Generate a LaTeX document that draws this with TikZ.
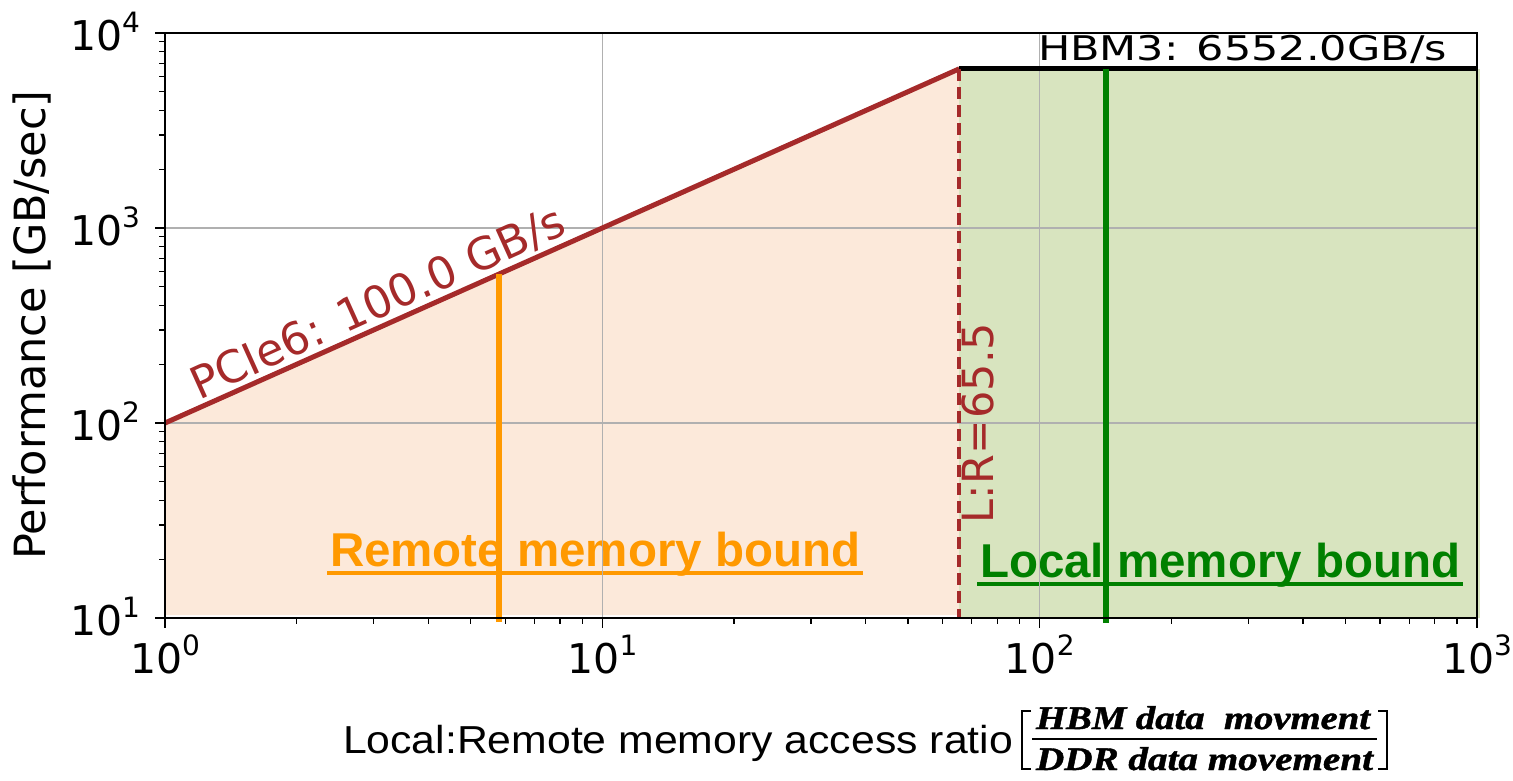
\documentclass[tikz,border=0pt]{standalone}
\usepackage{fontspec}
\usepackage{graphicx}
\setmainfont{DejaVu Sans}
\newfontfamily\arialf{Liberation Sans}
\newfontfamily\timesf{Liberation Serif}[FakeBold=1.2]
\definecolor{pcie}{HTML}{A52A2A}
\definecolor{peach}{HTML}{FCE9DA}
\definecolor{lgreen}{HTML}{D8E4BF}
\definecolor{orng}{HTML}{FF9900}
\definecolor{dgreen}{HTML}{008000}
\definecolor{gridc}{HTML}{B0B0B0}
\newcommand\tlab[1]{10\raisebox{18pt}{\fontsize{28}{28}\selectfont #1}}
\tikzset{
  txt/.style={inner sep=0pt, outer sep=0pt},
  ticklab/.style={txt, font=\fontsize{41}{41}\selectfont},
  mpllab/.style={txt, font=\fontsize{43}{43}\selectfont},
  bigbold/.style={txt, font=\arialf\bfseries\fontsize{47.5}{47.5}\selectfont},
  fracfont/.style={txt, font=\timesf\bfseries\itshape\fontsize{33}{33}\selectfont},
  gridline/.style={gridc, line width=1.5pt},
  thickline/.style={line width=5pt},
  frame/.style={black, line width=1.6pt},
  tickmaj/.style={black, line width=1.5pt},
  tickmin/.style={black, line width=1.1pt},
  brk/.style={black, line width=1.8pt},
}
\begin{document}
\begin{tikzpicture}[x=1pt,y=-1pt]
\useasboundingbox (0,0) rectangle (1513,780);
% key coordinates
\coordinate (pstart) at (165,423);
\coordinate (ridge) at (959.3,68.8);
\coordinate (ridgebot) at (959.3,618);
\coordinate (hbmend) at (1477,68.8);
\coordinate (ortop) at (499,274.1);
\coordinate (orbot) at (499,622);
\coordinate (grtop) at (1106,68.8);
\coordinate (grbot) at (1106,623);
% fills
\fill[peach] (165,615) -- (pstart) -- (ridge) -- (959.3,615) -- cycle;
\fill[lgreen] (959.3,68.8) rectangle (1480,618);
% region annotations
\node[bigbold, orng, anchor=base west] (rmb) at (330,566) {Remote memory bound};
\draw[orng, line width=4.5pt] ([xshift=-3pt,yshift=-7pt]rmb.base west) -- ([xshift=3pt,yshift=-7pt]rmb.base east);
\node[bigbold, dgreen, anchor=base west] (lmb) at (980,577) {Local memory bound};
\draw[dgreen, line width=4.5pt] ([xshift=-3pt,yshift=-7pt]lmb.base west) -- ([xshift=3pt,yshift=-7pt]lmb.base east);
\node[mpllab, pcie, rotate=90, anchor=base west] (lr) at (993,523) {L:R=65.5};
% grid
\draw[gridline] (602.3,33) -- (602.3,618);
\draw[gridline] (1039.7,33) -- (1039.7,618);
\draw[gridline] (165,228) -- (1477,228);
\draw[gridline] (165,423) -- (1477,423);
% roofline
\draw[thickline, pcie] (pstart) -- (ridge);
\draw[thickline, black] (ridge) -- (hbmend);
\draw[pcie, line width=4pt, dash pattern=on 12pt off 6pt] (ridge) -- (ridgebot);
\draw[orng, line width=5.5pt] (orbot) -- (ortop);
\draw[dgreen, line width=5.5pt] (grbot) -- (grtop);
% frame
\draw[frame] (165,33) rectangle (1477,618);
% ticks
\foreach \d in {0,1,2,3}{
  \draw[tickmaj] ({165+437.333*\d},618) -- ++(0,10);
  \node[ticklab, anchor=base] (xt\d) at ({165+437.333*\d},673) {\tlab{\d}};
}
\foreach \d in {0,1,2}{
  \foreach \k in {2,...,9}{
    \pgfmathsetmacro\xx{165+437.333*(\d+log10(\k))}
    \draw[tickmin] (\xx,618) -- ++(0,6);
    \pgfmathsetmacro\yy{618-195*(\d+log10(\k))}
    \draw[tickmin] (165,\yy) -- ++(-6,0);
  }
}
\foreach \e/\lab in {0/1,1/2,2/3,3/4}{
  \draw[tickmaj] (165,{618-195*\e}) -- ++(-10,0);
  \node[ticklab, anchor=base east] (yt\e) at (140,{635-195*\e}) {\tlab{\lab}};
}
% line labels
\node[txt, pcie, rotate=24.3, anchor=base west, font=\fontsize{44.5}{44.5}\selectfont] (plab) at (199,400) {PCIe6: 100.0 GB/s};
\node[txt, anchor=base west] (hbm) at (1038,60) {\resizebox{409pt}{\height}{\fontsize{34}{34}\selectfont HBM3: 6552.0GB/s}};
% axis labels
\node[mpllab, rotate=90, anchor=base] (ylab) at (45,325) {Performance [GB/sec]};
\node[txt, anchor=base west] (xlab) at (343,753) {\resizebox{670pt}{\height}{\arialf\fontsize{39}{39}\selectfont Local:Remote memory access ratio}};
\node[fracfont, anchor=base west] (num) at (1036,729) {\resizebox{334pt}{\height}{HBM data\ \ movment}};
\node[fracfont, anchor=base west] (den) at (1036,770) {\resizebox{337pt}{\height}{DDR data movement}};
\coordinate (barl) at (1032,739);
\coordinate (barr) at (1377,739);
\draw[black, line width=2.7pt] (barl) -- (barr);
\coordinate (lb1) at (1031,711);
\coordinate (lb2) at (1022,711);
\coordinate (lb3) at (1022,769);
\coordinate (lb4) at (1031,769);
\draw[brk] (lb1) -- (lb2) -- (lb3) -- (lb4);
\coordinate (rb1) at (1378,711);
\coordinate (rb2) at (1387,711);
\coordinate (rb3) at (1387,769);
\coordinate (rb4) at (1378,769);
\draw[brk] (rb1) -- (rb2) -- (rb3) -- (rb4);
\end{tikzpicture}
\end{document}
